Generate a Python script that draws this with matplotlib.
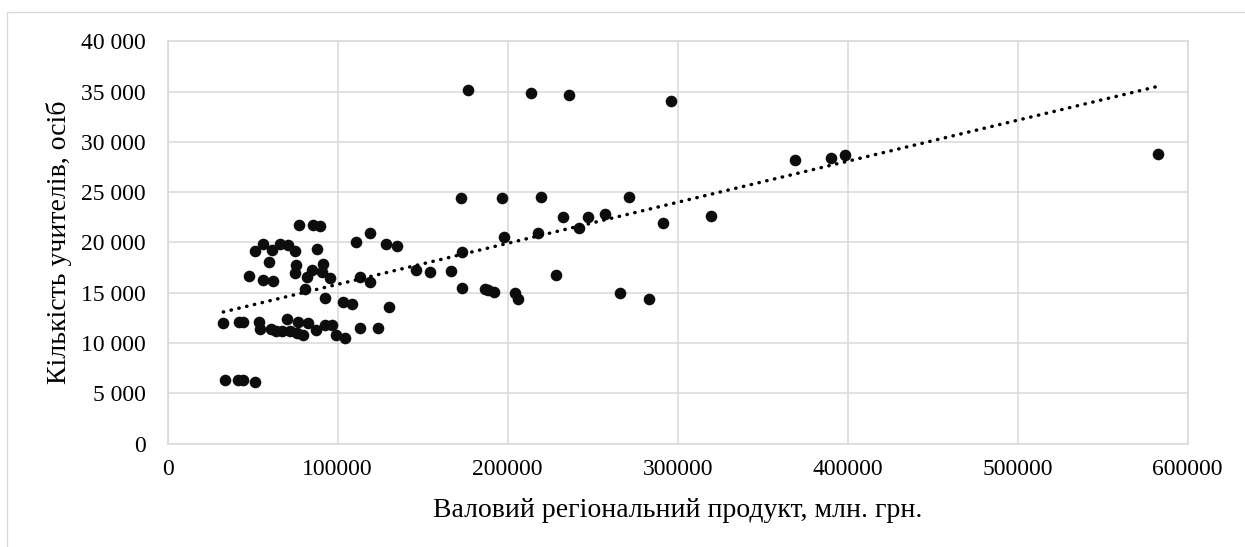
import numpy as np
import matplotlib
matplotlib.use("Agg")
import matplotlib.pyplot as plt
from matplotlib.ticker import FuncFormatter, MultipleLocator
from matplotlib.patches import Rectangle

# ВРП, млн. грн. (x) та кількість учителів, осіб (y)
grp = [
    33700, 41500, 44500, 51400,
    32700, 41900, 44000, 53700, 54300, 60800, 63700, 67000, 70000, 71900,
    75900, 76800, 79800, 82700, 87200, 92500, 96500, 99000, 104300, 113100, 123500,
    77400, 85600, 89600, 55900, 51400, 61200, 66100, 70900, 74900, 88000,
    59800, 75500, 74900, 84700, 91500, 90600, 82100, 95500, 48000, 56200,
    61800, 80800, 92500, 102900, 108200, 130400, 110800, 119000, 128400, 134700,
    113100, 119000,
    176600, 213900, 235900, 295900, 172500, 196600, 219800, 271200, 232700, 247100,
    257400, 241900, 291200, 319600, 218000, 197600, 172900, 146200, 154500, 166500,
    228400, 173300, 186600, 188600, 191800, 204300, 205900, 266100, 282900,
    369200, 390200, 398600, 582500,
]
teachers = [
    6330, 6330, 6330, 6160,
    12030, 12130, 12130, 12070, 11400, 11370, 11230, 11230, 12370, 11140,
    10980, 12130, 10810, 11970, 11300, 11800, 11800, 10810, 10540, 11530, 11530,
    21760, 21760, 21660, 19840, 19170, 19200, 19840, 19770, 19170, 19340,
    18050, 17780, 16950, 17280, 17880, 17010, 16510, 16450, 16680, 16280,
    16120, 15360, 14460, 14120, 13890, 13560, 20000, 20940, 19840, 19600,
    16550, 16020,
    35180, 34810, 34610, 34080, 24450, 24450, 24480, 24520, 22530, 22490,
    22790, 21460, 21960, 22600, 20940, 20540, 19040, 17210, 17080, 17150,
    16710, 15460, 15390, 15220, 15020, 14920, 14360, 14960, 14390,
    28170, 28370, 28670, 28830,
]

x = np.array(grp, dtype=float)
y = np.array(teachers, dtype=float)

plt.rcParams['font.family'] = ['Liberation Serif', 'DejaVu Serif']

fig = plt.figure(figsize=(12.45, 5.47), dpi=100)
# рамка області діаграми (видно лише ліворуч і зверху)
fig.patches.append(Rectangle((7 / 1245, -0.1), 1.2, 1.1 - 11.5 / 547,
                             transform=fig.transFigure, fill=False,
                             edgecolor='#d9d9d9', linewidth=1.0))
ax = fig.add_axes([167.7 / 1245, 1 - 443.5 / 547, 1020 / 1245, 402.2 / 547])

ax.scatter(x, y, s=70, color='#0d0d0d', zorder=3, linewidths=0)

# лінійний тренд
k, b = np.polyfit(x, y, 1)
xt = np.array([x.min(), x.max()])
ax.plot(xt, k * xt + b, color='black', linewidth=2.5,
        linestyle=(0, (0.1, 2.2)), dash_capstyle='round', zorder=4)

ax.set_xlim(0, 600000)
ax.set_ylim(0, 40000)
ax.xaxis.set_major_locator(MultipleLocator(100000))
ax.yaxis.set_major_locator(MultipleLocator(5000))
ax.yaxis.set_major_formatter(FuncFormatter(lambda v, p: f"{int(v):,}".replace(",", " ")))
ax.xaxis.set_major_formatter(FuncFormatter(lambda v, p: f"{int(v)}"))

ax.grid(True, color='#d9d9d9', linewidth=1.1, zorder=0)
ax.set_axisbelow(True)
for s in ax.spines.values():
    s.set_color('#d9d9d9')
    s.set_linewidth(1.1)
ax.tick_params(length=0, labelsize=17, colors='black')
ax.tick_params(axis='y', pad=16)
ax.tick_params(axis='x', pad=11)

ax.set_xlabel("Валовий регіональний продукт, млн. грн.", fontsize=20, color='black')
ax.set_ylabel("Кількість учителів, осіб", fontsize=20, color='black')
ax.xaxis.set_label_coords(0.5, (443.5 - 498) / 402.2)
ax.yaxis.set_label_coords((72 - 167.7) / 1020, 0.5)

fig.savefig("out.png", dpi=100)
